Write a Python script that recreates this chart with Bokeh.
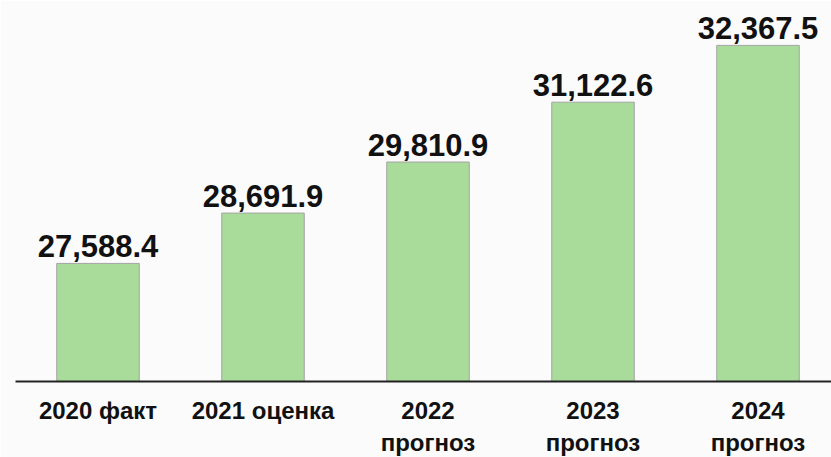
from bokeh.plotting import figure
from bokeh.models import Range1d, FixedTicker, ColumnDataSource
from bokeh.core.properties import value
from bokeh.embed import file_html
from bokeh.resources import INLINE

categories = ["2020 факт", "2021 оценка", "2022\nпрогноз", "2023\nпрогноз", "2024\nпрогноз"]
values = [27588.4, 28691.9, 29810.9, 31122.6, 32367.5]

xs = list(range(len(categories)))
labels = [f"{v:,.1f}" for v in values]
src = ColumnDataSource(dict(x=xs, top=values, label=labels))

BG = "#FBFBFB"
FW = 816
p = figure(frame_width=FW, frame_height=373, output_backend="svg", toolbar_location=None,
           x_range=Range1d(-0.5, -0.5 + FW / 165), y_range=Range1d(25000, 33176),
           y_axis_location=None, min_border_left=15, min_border_right=0,
           min_border_top=8, min_border_bottom=0,
           background_fill_color=BG, border_fill_color=BG, outline_line_color=None)

p.vbar(x="x", top="top", bottom=25000, width=0.5, source=src,
       fill_color="#A9DC9A", line_color="#A3A3A3", line_width=1)

p.text(x="x", y="top", text="label", source=src, text_align="center",
       text_baseline="alphabetic", y_offset=-17,
       text_font=value("Liberation Sans"), text_font_style="bold",
       text_font_size="31px", text_color="#111111")

p.xgrid.grid_line_color = None
p.ygrid.grid_line_color = None
ax = p.xaxis[0]
ax.ticker = FixedTicker(ticks=xs)
ax.major_label_overrides = {i: c for i, c in zip(xs, categories)}
ax.axis_line_color = "#222222"
ax.axis_line_width = 2
ax.major_tick_line_color = None
ax.minor_tick_line_color = None
ax.major_label_standoff = 9
ax.major_label_text_font = "Liberation Sans"
ax.major_label_text_font_style = "bold"
ax.major_label_text_font_size = "24px"
ax.major_label_text_color = "#111111"

open("out.html", "w").write(file_html(p, INLINE))
